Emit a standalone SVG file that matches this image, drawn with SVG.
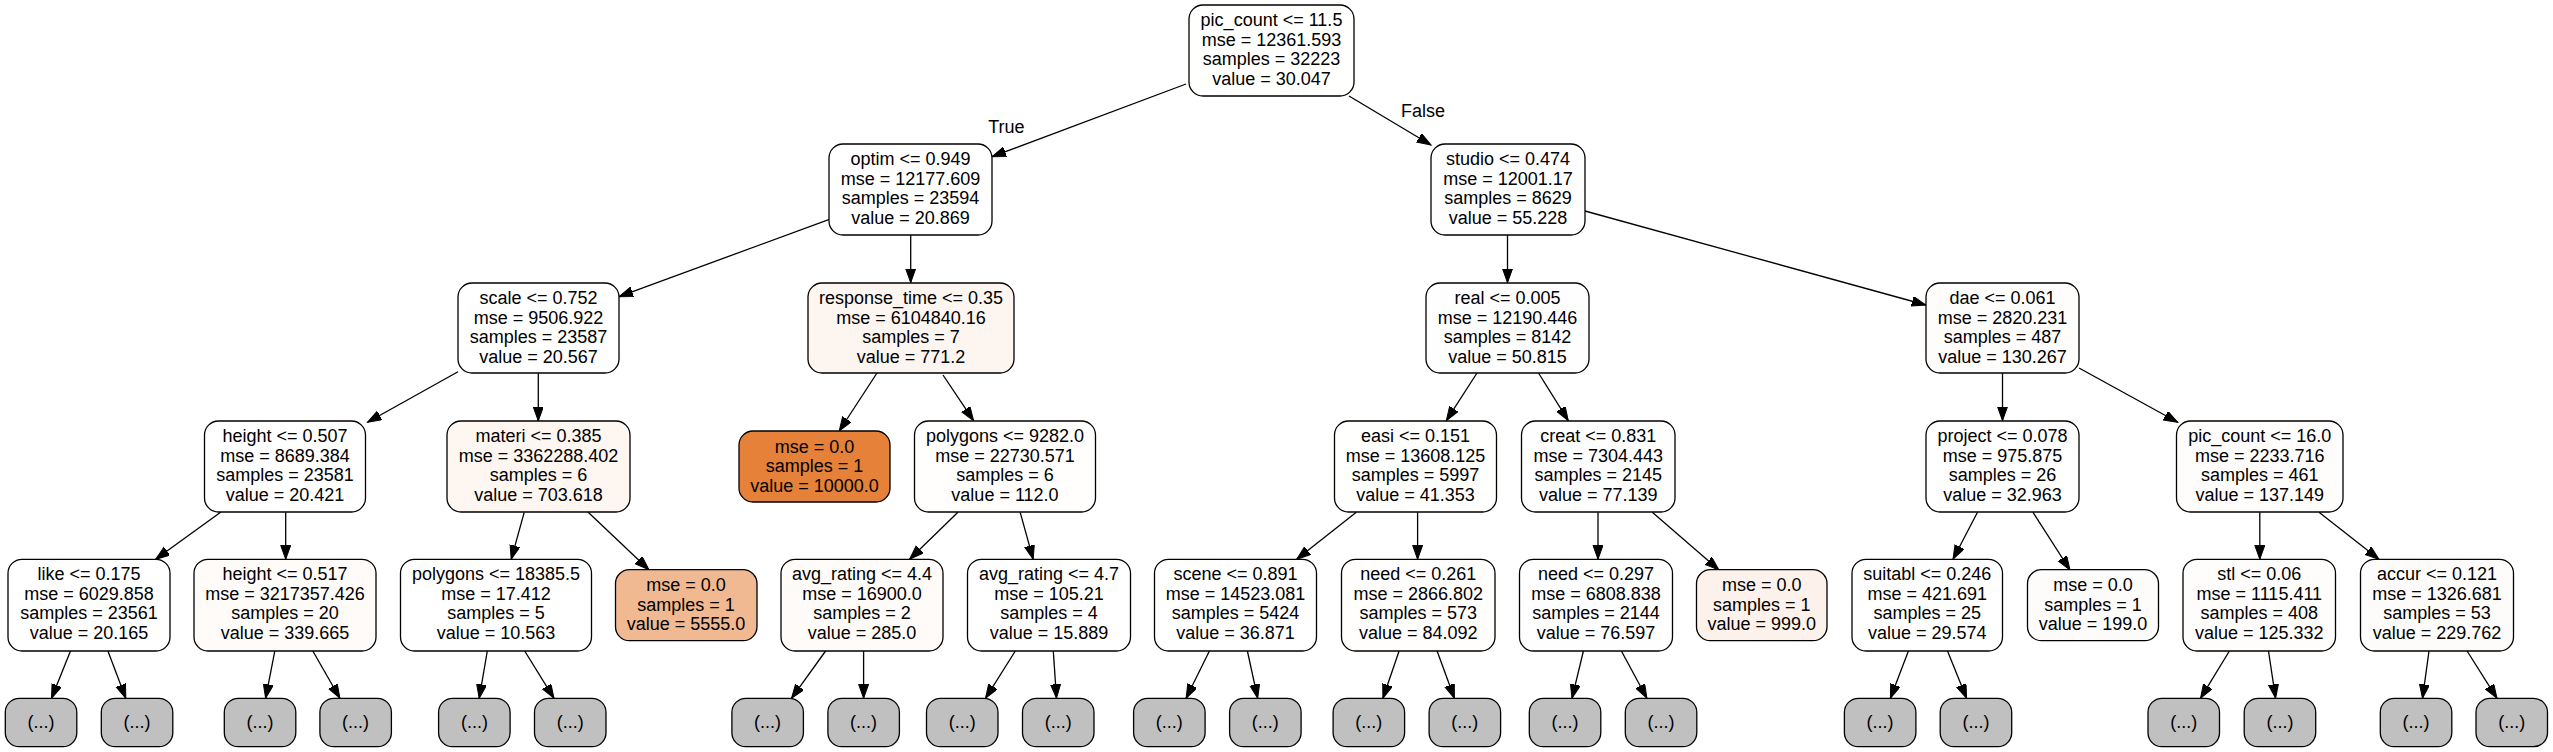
<svg xmlns="http://www.w3.org/2000/svg" width="2553" height="752" viewBox="0 0 2553 752">
<style>
  .bg{fill:#ffffff}
  .n rect{stroke:#000;stroke-width:1.3}
  .n text{font-family:"Liberation Sans",Arial,Helvetica,sans-serif;font-size:18px;fill:#000;text-anchor:middle}
  .g rect{fill:#c0c0c0}
  .e{stroke:#000;stroke-width:1.3;fill:none;marker-end:url(#ah)}
  .lbl{font-family:"Liberation Sans",Arial,Helvetica,sans-serif;font-size:18px;fill:#000;text-anchor:middle}
</style>
<defs>
  <marker id="ah" markerUnits="userSpaceOnUse" markerWidth="15" markerHeight="11" refX="14" refY="5" orient="auto">
    <path d="M0,0 L14,5 L0,10 z" fill="#000" stroke="#000" stroke-width="1"/>
  </marker>
</defs>
<rect class="bg" x="0" y="0" width="2553" height="752"/>

<g id="edges">
  <path class="e" d="M1186,84 L992,156.7"/>
  <path class="e" d="M1349,96 L1431,145"/>
  <path class="e" d="M910.7,235 L910.7,282.7"/>
  <path class="e" d="M829.4,219.3 L619,296.7"/>
  <path class="e" d="M1507.5,235 L1507.5,282.7"/>
  <path class="e" d="M1585,211 L1925.8,305"/>
  <path class="e" d="M458,371.7 L367.5,422.3"/>
  <path class="e" d="M538.3,373.3 L538.3,421"/>
  <path class="e" d="M877,373 L839.2,431"/>
  <path class="e" d="M943,375 L973.6,420.7"/>
  <path class="e" d="M1477,373 L1446.3,420.7"/>
  <path class="e" d="M1538.5,373 L1568.3,420.7"/>
  <path class="e" d="M2002.5,373 L2002.5,420.7"/>
  <path class="e" d="M2079,368 L2177.7,422.3"/>
  <path class="e" d="M220.6,512.3 L155.6,559.3"/>
  <path class="e" d="M285.7,512.3 L285.7,559.3"/>
  <path class="e" d="M524.2,512.3 L511.2,559.3"/>
  <path class="e" d="M588.2,512.3 L648.9,569.7"/>
  <path class="e" d="M957.9,512.3 L909.6,559.3"/>
  <path class="e" d="M1020.2,512.3 L1033.2,559.3"/>
  <path class="e" d="M1356.3,512.3 L1296.7,559.3"/>
  <path class="e" d="M1417.6,512.3 L1417.6,559.3"/>
  <path class="e" d="M1598,512.3 L1598,559.3"/>
  <path class="e" d="M1652.3,512.3 L1719,570"/>
  <path class="e" d="M1977.5,512.3 L1953,559.3"/>
  <path class="e" d="M2033,512.3 L2070,570"/>
  <path class="e" d="M2259.8,512.3 L2259.8,559.3"/>
  <path class="e" d="M2319,512.3 L2379,559.3"/>
  <path class="e" d="M70.5,651 L51.5,698.3"/>
  <path class="e" d="M107.9,651 L125.8,698.3"/>
  <path class="e" d="M274.8,651 L265.6,698.3"/>
  <path class="e" d="M312.8,651 L339.9,698.3"/>
  <path class="e" d="M487.3,651 L479.2,698.3"/>
  <path class="e" d="M524.7,651 L554,698.3"/>
  <path class="e" d="M825.6,651 L791.5,698.3"/>
  <path class="e" d="M863.6,651 L863.6,698.3"/>
  <path class="e" d="M1015.3,651 L985.5,698.3"/>
  <path class="e" d="M1053.3,651 L1056.5,698.3"/>
  <path class="e" d="M1209.4,651 L1186.1,698.3"/>
  <path class="e" d="M1247.4,651 L1257.7,698.3"/>
  <path class="e" d="M1399.1,651 L1382.9,698.3"/>
  <path class="e" d="M1437.1,651 L1454.4,698.3"/>
  <path class="e" d="M1583.4,651 L1572,698.3"/>
  <path class="e" d="M1621.4,651 L1646.9,698.3"/>
  <path class="e" d="M1908.4,651 L1890.4,698.3"/>
  <path class="e" d="M1947.5,651 L1966.6,698.3"/>
  <path class="e" d="M2229.4,651 L2200.5,698.3"/>
  <path class="e" d="M2268.5,651 L2275.6,698.3"/>
  <path class="e" d="M2429,651 L2422.5,698.3"/>
  <path class="e" d="M2467.1,651 L2497,698.3"/>
  <text class="lbl" x="1006.4" y="132.5">True</text>
  <text class="lbl" x="1423" y="117.3">False</text>
</g>

<g id="n_root" class="n"><rect x="1189" y="5" width="165" height="91" rx="14" fill="#fffffe"/>
  <text x="1271.5" y="26">pic_count &lt;= 11.5</text><text x="1271.5" y="45.5">mse = 12361.593</text><text x="1271.5" y="65">samples = 32223</text><text x="1271.5" y="84.5">value = 30.047</text></g>
<g id="n_optim" class="n"><rect x="829" y="144" width="163" height="91" rx="14" fill="#ffffff"/>
  <text x="910.5" y="165">optim &lt;= 0.949</text><text x="910.5" y="184.5">mse = 12177.609</text><text x="910.5" y="204">samples = 23594</text><text x="910.5" y="223.5">value = 20.869</text></g>
<g id="n_studio" class="n"><rect x="1431" y="144" width="154" height="91" rx="14" fill="#fffefe"/>
  <text x="1508" y="165">studio &lt;= 0.474</text><text x="1508" y="184.5">mse = 12001.17</text><text x="1508" y="204">samples = 8629</text><text x="1508" y="223.5">value = 55.228</text></g>

<g id="n_scale" class="n"><rect x="458" y="283" width="161" height="90" rx="14" fill="#ffffff"/>
  <text x="538.5" y="304">scale &lt;= 0.752</text><text x="538.5" y="323.5">mse = 9506.922</text><text x="538.5" y="343">samples = 23587</text><text x="538.5" y="362.5">value = 20.567</text></g>
<g id="n_resp" class="n"><rect x="808" y="283" width="206" height="90" rx="14" fill="#fdf5f0"/>
  <text x="911" y="304">response_time &lt;= 0.35</text><text x="911" y="323.5">mse = 6104840.16</text><text x="911" y="343">samples = 7</text><text x="911" y="362.5">value = 771.2</text></g>
<g id="n_real" class="n"><rect x="1426" y="283" width="163" height="90" rx="14" fill="#fffefe"/>
  <text x="1507.5" y="304">real &lt;= 0.005</text><text x="1507.5" y="323.5">mse = 12190.446</text><text x="1507.5" y="343">samples = 8142</text><text x="1507.5" y="362.5">value = 50.815</text></g>
<g id="n_dae" class="n"><rect x="1926" y="283" width="153" height="90" rx="14" fill="#fffdfc"/>
  <text x="2002.5" y="304">dae &lt;= 0.061</text><text x="2002.5" y="323.5">mse = 2820.231</text><text x="2002.5" y="343">samples = 487</text><text x="2002.5" y="362.5">value = 130.267</text></g>

<g id="n_h507" class="n"><rect x="204.5" y="421" width="161" height="91" rx="14" fill="#ffffff"/>
  <text x="285" y="442">height &lt;= 0.507</text><text x="285" y="461.5">mse = 8689.384</text><text x="285" y="481">samples = 23581</text><text x="285" y="500.5">value = 20.421</text></g>
<g id="n_materi" class="n"><rect x="447" y="421" width="183" height="91" rx="14" fill="#fdf6f1"/>
  <text x="538.5" y="442">materi &lt;= 0.385</text><text x="538.5" y="461.5">mse = 3362288.402</text><text x="538.5" y="481">samples = 6</text><text x="538.5" y="500.5">value = 703.618</text></g>
<g id="n_leaf10000" class="n"><rect x="739" y="431" width="151" height="71" rx="14" fill="#e58139"/>
  <text x="814.5" y="452.5">mse = 0.0</text><text x="814.5" y="472">samples = 1</text><text x="814.5" y="491.5">value = 10000.0</text></g>
<g id="n_poly9282" class="n"><rect x="914.5" y="421" width="181" height="91" rx="14" fill="#fffefd"/>
  <text x="1005" y="442">polygons &lt;= 9282.0</text><text x="1005" y="461.5">mse = 22730.571</text><text x="1005" y="481">samples = 6</text><text x="1005" y="500.5">value = 112.0</text></g>
<g id="n_easi" class="n"><rect x="1334.5" y="421" width="162" height="91" rx="14" fill="#fffffe"/>
  <text x="1415.5" y="442">easi &lt;= 0.151</text><text x="1415.5" y="461.5">mse = 13608.125</text><text x="1415.5" y="481">samples = 5997</text><text x="1415.5" y="500.5">value = 41.353</text></g>
<g id="n_creat" class="n"><rect x="1521.5" y="421" width="153.5" height="91" rx="14" fill="#fffefe"/>
  <text x="1598.3" y="442">creat &lt;= 0.831</text><text x="1598.3" y="461.5">mse = 7304.443</text><text x="1598.3" y="481">samples = 2145</text><text x="1598.3" y="500.5">value = 77.139</text></g>
<g id="n_project" class="n"><rect x="1926" y="421" width="153" height="91" rx="14" fill="#ffffff"/>
  <text x="2002.5" y="442">project &lt;= 0.078</text><text x="2002.5" y="461.5">mse = 975.875</text><text x="2002.5" y="481">samples = 26</text><text x="2002.5" y="500.5">value = 32.963</text></g>
<g id="n_pc16" class="n"><rect x="2176.5" y="421" width="166.5" height="91" rx="14" fill="#fffdfc"/>
  <text x="2259.8" y="442">pic_count &lt;= 16.0</text><text x="2259.8" y="461.5">mse = 2233.716</text><text x="2259.8" y="481">samples = 461</text><text x="2259.8" y="500.5">value = 137.149</text></g>

<g id="n_like" class="n"><rect x="8" y="559.3" width="162" height="91.7" rx="14" fill="#ffffff"/>
  <text x="89" y="580.3">like &lt;= 0.175</text><text x="89" y="599.8">mse = 6029.858</text><text x="89" y="619.3">samples = 23561</text><text x="89" y="638.8">value = 20.165</text></g>
<g id="n_h517" class="n"><rect x="194" y="559.3" width="182" height="91.7" rx="14" fill="#fefbf8"/>
  <text x="285" y="580.3">height &lt;= 0.517</text><text x="285" y="599.8">mse = 3217357.426</text><text x="285" y="619.3">samples = 20</text><text x="285" y="638.8">value = 339.665</text></g>
<g id="n_poly18385" class="n"><rect x="400.5" y="559.3" width="191" height="91.7" rx="14" fill="#ffffff"/>
  <text x="496" y="580.3">polygons &lt;= 18385.5</text><text x="496" y="599.8">mse = 17.412</text><text x="496" y="619.3">samples = 5</text><text x="496" y="638.8">value = 10.563</text></g>
<g id="n_leaf5555" class="n"><rect x="615.5" y="569.7" width="141.5" height="71" rx="14" fill="#f1b991"/>
  <text x="686" y="591.2">mse = 0.0</text><text x="686" y="610.7">samples = 1</text><text x="686" y="630.2">value = 5555.0</text></g>
<g id="n_avg44" class="n"><rect x="781" y="559.3" width="162" height="91.7" rx="14" fill="#fefbf9"/>
  <text x="862" y="580.3">avg_rating &lt;= 4.4</text><text x="862" y="599.8">mse = 16900.0</text><text x="862" y="619.3">samples = 2</text><text x="862" y="638.8">value = 285.0</text></g>
<g id="n_avg47" class="n"><rect x="967.5" y="559.3" width="163" height="91.7" rx="14" fill="#ffffff"/>
  <text x="1049" y="580.3">avg_rating &lt;= 4.7</text><text x="1049" y="599.8">mse = 105.21</text><text x="1049" y="619.3">samples = 4</text><text x="1049" y="638.8">value = 15.889</text></g>
<g id="n_scene" class="n"><rect x="1154.5" y="559.3" width="162" height="91.7" rx="14" fill="#ffffff"/>
  <text x="1235.5" y="580.3">scene &lt;= 0.891</text><text x="1235.5" y="599.8">mse = 14523.081</text><text x="1235.5" y="619.3">samples = 5424</text><text x="1235.5" y="638.8">value = 36.871</text></g>
<g id="n_need261" class="n"><rect x="1341.5" y="559.3" width="153.5" height="91.7" rx="14" fill="#fffefd"/>
  <text x="1418.3" y="580.3">need &lt;= 0.261</text><text x="1418.3" y="599.8">mse = 2866.802</text><text x="1418.3" y="619.3">samples = 573</text><text x="1418.3" y="638.8">value = 84.092</text></g>
<g id="n_need297" class="n"><rect x="1519.5" y="559.3" width="153" height="91.7" rx="14" fill="#fffefe"/>
  <text x="1596" y="580.3">need &lt;= 0.297</text><text x="1596" y="599.8">mse = 6808.838</text><text x="1596" y="619.3">samples = 2144</text><text x="1596" y="638.8">value = 76.597</text></g>
<g id="n_leaf999" class="n"><rect x="1696.5" y="569.7" width="130.5" height="71" rx="14" fill="#fcf2eb"/>
  <text x="1761.7" y="591.2">mse = 0.0</text><text x="1761.7" y="610.7">samples = 1</text><text x="1761.7" y="630.2">value = 999.0</text></g>
<g id="n_suitabl" class="n"><rect x="1852" y="559.3" width="150.5" height="91.7" rx="14" fill="#ffffff"/>
  <text x="1927.3" y="580.3">suitabl &lt;= 0.246</text><text x="1927.3" y="599.8">mse = 421.691</text><text x="1927.3" y="619.3">samples = 25</text><text x="1927.3" y="638.8">value = 29.574</text></g>
<g id="n_leaf199" class="n"><rect x="2027.5" y="569.7" width="131" height="71" rx="14" fill="#fefcfb"/>
  <text x="2093" y="591.2">mse = 0.0</text><text x="2093" y="610.7">samples = 1</text><text x="2093" y="630.2">value = 199.0</text></g>
<g id="n_stl" class="n"><rect x="2183" y="559.3" width="152.5" height="91.7" rx="14" fill="#fffdfc"/>
  <text x="2259.3" y="580.3">stl &lt;= 0.06</text><text x="2259.3" y="599.8">mse = 1115.411</text><text x="2259.3" y="619.3">samples = 408</text><text x="2259.3" y="638.8">value = 125.332</text></g>
<g id="n_accur" class="n"><rect x="2360.5" y="559.3" width="153" height="91.7" rx="14" fill="#fefcfa"/>
  <text x="2437" y="580.3">accur &lt;= 0.121</text><text x="2437" y="599.8">mse = 1326.681</text><text x="2437" y="619.3">samples = 53</text><text x="2437" y="638.8">value = 229.762</text></g>

<g id="t1" class="n g"><rect x="5.3" y="698.3" width="71.5" height="48.4" rx="14"/><text x="41" y="728">(...)</text></g>
<g id="t2" class="n g"><rect x="101.3" y="698.3" width="71.5" height="48.4" rx="14"/><text x="137" y="728">(...)</text></g>
<g id="t3" class="n g"><rect x="224.3" y="698.3" width="71.5" height="48.4" rx="14"/><text x="260" y="728">(...)</text></g>
<g id="t4" class="n g"><rect x="319.9" y="698.3" width="71.5" height="48.4" rx="14"/><text x="355.6" y="728">(...)</text></g>
<g id="t5" class="n g"><rect x="438.6" y="698.3" width="71.5" height="48.4" rx="14"/><text x="474.4" y="728">(...)</text></g>
<g id="t6" class="n g"><rect x="534.5" y="698.3" width="71.5" height="48.4" rx="14"/><text x="570.3" y="728">(...)</text></g>
<g id="t7" class="n g"><rect x="731.9" y="698.3" width="71.5" height="48.4" rx="14"/><text x="767.6" y="728">(...)</text></g>
<g id="t8" class="n g"><rect x="827.9" y="698.3" width="71.5" height="48.4" rx="14"/><text x="863.6" y="728">(...)</text></g>
<g id="t9" class="n g"><rect x="926.5" y="698.3" width="71.5" height="48.4" rx="14"/><text x="962.2" y="728">(...)</text></g>
<g id="t10" class="n g"><rect x="1022.5" y="698.3" width="71.5" height="48.4" rx="14"/><text x="1058.2" y="728">(...)</text></g>
<g id="t11" class="n g"><rect x="1133.6" y="698.3" width="71.5" height="48.4" rx="14"/><text x="1169.3" y="728">(...)</text></g>
<g id="t12" class="n g"><rect x="1229.6" y="698.3" width="71.5" height="48.4" rx="14"/><text x="1265.3" y="728">(...)</text></g>
<g id="t13" class="n g"><rect x="1333.1" y="698.3" width="71.5" height="48.4" rx="14"/><text x="1368.8" y="728">(...)</text></g>
<g id="t14" class="n g"><rect x="1429.1" y="698.3" width="71.5" height="48.4" rx="14"/><text x="1464.8" y="728">(...)</text></g>
<g id="t15" class="n g"><rect x="1529.3" y="698.3" width="71.5" height="48.4" rx="14"/><text x="1565" y="728">(...)</text></g>
<g id="t16" class="n g"><rect x="1625.3" y="698.3" width="71.5" height="48.4" rx="14"/><text x="1661" y="728">(...)</text></g>
<g id="t17" class="n g"><rect x="1844.4" y="698.3" width="71.5" height="48.4" rx="14"/><text x="1880.1" y="728">(...)</text></g>
<g id="t18" class="n g"><rect x="1940.2" y="698.3" width="71.5" height="48.4" rx="14"/><text x="1975.9" y="728">(...)</text></g>
<g id="t19" class="n g"><rect x="2148" y="698.3" width="71.5" height="48.4" rx="14"/><text x="2183.7" y="728">(...)</text></g>
<g id="t20" class="n g"><rect x="2244.2" y="698.3" width="71.5" height="48.4" rx="14"/><text x="2279.9" y="728">(...)</text></g>
<g id="t21" class="n g"><rect x="2380.3" y="698.3" width="71.5" height="48.4" rx="14"/><text x="2416" y="728">(...)</text></g>
<g id="t22" class="n g"><rect x="2476" y="698.3" width="71.5" height="48.4" rx="14"/><text x="2511.7" y="728">(...)</text></g>
</svg>
